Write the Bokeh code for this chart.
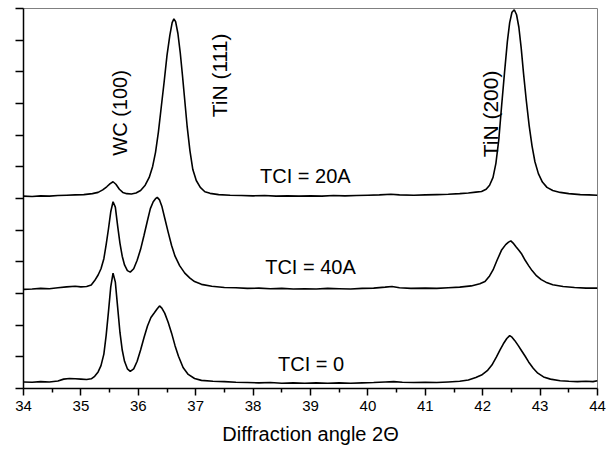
import math
from bokeh.plotting import figure
from bokeh.models import Range1d, FixedTicker, Label, CustomJSTickFormatter
from bokeh.embed import file_html
from bokeh.resources import INLINE

# ---------------- data ----------------
x_tci0 = [34.00, 34.15, 34.30, 34.45, 34.60, 34.70, 34.80, 34.90, 35.00, 35.10,
          35.18, 35.24, 35.30, 35.35, 35.40, 35.44, 35.48, 35.52, 35.56, 35.60,
          35.64, 35.68, 35.72, 35.76, 35.81, 35.86, 35.92, 35.98, 36.04, 36.10,
          36.16, 36.22, 36.28, 36.33, 36.37, 36.41, 36.46, 36.52, 36.58, 36.64,
          36.70, 36.78, 36.87, 36.98, 37.10, 37.30, 37.50, 37.70, 37.90, 38.10,
          38.30, 38.50, 38.70, 38.90, 39.10, 39.30, 39.50, 39.70, 39.90, 40.10,
          40.30, 40.45, 40.60, 40.80, 41.00, 41.20, 41.40, 41.60, 41.75, 41.88,
          41.98, 42.08, 42.16, 42.24, 42.30, 42.36, 42.42, 42.47, 42.51, 42.56,
          42.62, 42.68, 42.74, 42.80, 42.88, 42.96, 43.06, 43.18, 43.35, 43.50,
          43.65, 43.80, 43.92, 44.00]
y_tci0 = [0.06, 0.05, 0.07, 0.06, 0.09, 0.15, 0.17, 0.16, 0.15, 0.14,
          0.16, 0.24, 0.38, 0.58, 0.95, 1.55, 2.30, 3.10, 3.54, 3.25,
          2.45, 1.65, 1.08, 0.72, 0.48, 0.40, 0.48, 0.72, 1.08, 1.48,
          1.85, 2.12, 2.27, 2.40, 2.49, 2.42, 2.26, 1.97, 1.62, 1.22,
          0.88, 0.52, 0.30, 0.17, 0.11, 0.08, 0.07, 0.05, 0.04, 0.03,
          0.04, 0.02, 0.03, 0.02, 0.03, 0.02, 0.03, 0.02, 0.03, 0.04,
          0.06, 0.07, 0.05, 0.04, 0.05, 0.04, 0.06, 0.08, 0.12, 0.20,
          0.28, 0.42, 0.60, 0.86, 1.08, 1.28, 1.45, 1.54, 1.49, 1.38,
          1.22, 1.05, 0.88, 0.70, 0.50, 0.34, 0.22, 0.15, 0.10, 0.08,
          0.07, 0.08, 0.07, 0.10]

x_tci40 = [34.00, 34.15, 34.30, 34.45, 34.60, 34.75, 34.90, 35.00, 35.10, 35.18,
           35.24, 35.30, 35.35, 35.40, 35.44, 35.48, 35.52, 35.56, 35.60, 35.64,
           35.68, 35.72, 35.76, 35.81, 35.86, 35.92, 35.98, 36.04, 36.10, 36.16,
           36.21, 36.26, 36.30, 36.33, 36.37, 36.41, 36.46, 36.52, 36.58, 36.64,
           36.72, 36.81, 36.90, 36.98, 37.10, 37.28, 37.50, 37.70, 37.90, 38.10,
           38.30, 38.50, 38.70, 38.90, 39.10, 39.30, 39.50, 39.70, 39.90, 40.10,
           40.30, 40.42, 40.55, 40.75, 41.00, 41.20, 41.40, 41.60, 41.80, 41.95,
           42.04, 42.12, 42.18, 42.25, 42.33, 42.40, 42.45, 42.49, 42.53, 42.58,
           42.63, 42.68, 42.74, 42.80, 42.86, 42.94, 43.02, 43.10, 43.22, 43.40,
           43.60, 43.80, 44.00]
y_tci40 = [3.02, 3.03, 3.05, 3.04, 3.07, 3.10, 3.12, 3.10, 3.11, 3.16,
           3.30, 3.48, 3.68, 4.00, 4.45, 4.95, 5.50, 5.82, 5.65, 5.05,
           4.50, 4.08, 3.80, 3.62, 3.57, 3.68, 3.95, 4.30, 4.75, 5.22,
           5.60, 5.82, 5.92, 5.96, 5.88, 5.68, 5.30, 4.85, 4.42, 4.08,
           3.78, 3.54, 3.38, 3.27, 3.18, 3.12, 3.08, 3.07, 3.05, 3.06,
           3.04, 3.05, 3.03, 3.04, 3.03, 3.05, 3.04, 3.03, 3.05, 3.06,
           3.09, 3.11, 3.07, 3.05, 3.06, 3.05, 3.07, 3.09, 3.13, 3.20,
           3.27, 3.45, 3.64, 3.95, 4.28, 4.45, 4.53, 4.57, 4.50, 4.38,
           4.27, 4.15, 3.95, 3.78, 3.62, 3.45, 3.33, 3.25, 3.17, 3.11,
           3.08, 3.06, 3.06]

x_tci20 = [34.00, 34.15, 34.30, 34.45, 34.60, 34.75, 34.90, 35.05, 35.20, 35.30,
           35.38, 35.45, 35.51, 35.56, 35.61, 35.67, 35.73, 35.80, 35.88, 35.96,
           36.04, 36.12, 36.19, 36.25, 36.30, 36.35, 36.40, 36.45, 36.50, 36.55,
           36.59, 36.62, 36.65, 36.69, 36.73, 36.77, 36.81, 36.85, 36.90, 36.95,
           37.01, 37.08, 37.16, 37.25, 37.40, 37.60, 37.80, 38.00, 38.20, 38.40,
           38.60, 38.80, 39.00, 39.20, 39.40, 39.60, 39.80, 40.00, 40.20, 40.40,
           40.55, 40.80, 41.00, 41.20, 41.40, 41.60, 41.75, 41.88, 41.98, 42.06,
           42.12, 42.18, 42.23, 42.28, 42.33, 42.38, 42.43, 42.47, 42.51, 42.55,
           42.59, 42.63, 42.67, 42.71, 42.76, 42.81, 42.86, 42.91, 42.97, 43.04,
           43.12, 43.22, 43.35, 43.50, 43.70, 43.85, 44.00]
y_tci20 = [6.00, 5.99, 6.01, 6.00, 6.02, 6.03, 6.04, 6.05, 6.08, 6.12,
           6.20, 6.30, 6.40, 6.46, 6.38, 6.22, 6.12, 6.08, 6.07, 6.10,
           6.18, 6.35, 6.60, 6.95, 7.40, 8.05, 8.85, 9.65, 10.50, 11.15,
           11.55, 11.67, 11.58, 11.20, 10.60, 9.85, 9.05, 8.25, 7.45, 6.85,
           6.50, 6.28, 6.14, 6.09, 6.05, 6.03, 6.02, 6.01, 6.02, 6.00,
           6.01, 6.00, 6.01, 6.00, 6.02, 6.01, 6.02, 6.03, 6.04, 6.06,
           6.04, 6.03, 6.04, 6.05, 6.06, 6.08, 6.10, 6.13, 6.15, 6.22,
           6.35, 6.60, 7.05, 7.80, 8.90, 9.95, 10.95, 11.55, 11.88, 11.96,
           11.80, 11.40, 10.75, 9.95, 9.05, 8.25, 7.60, 7.10, 6.72, 6.45,
           6.28, 6.18, 6.12, 6.08, 6.05, 6.04, 6.03]

x_ticks = [34, 35, 36, 37, 38, 39, 40, 41, 42, 43, 44]
x_minor = [34.5, 35.5, 36.5, 37.5, 38.5, 39.5, 40.5, 41.5, 42.5, 43.5]

peak_labels = ["WC (100)", "TiN (111)", "TiN (200)"]
curve_labels = ["TCI = 20A", "TCI = 40A", "TCI = 0"]
x_title = "Diffraction angle 2\u0398"

# ---------------- figure ----------------
FONT = "Liberation Sans"
Y0, Y1 = -0.15, 12.0

p = figure(width=606, height=450, output_backend="svg", toolbar_location=None,
           x_range=Range1d(34, 44), y_range=Range1d(Y0, Y1),
           min_border_left=23, min_border_right=9, min_border_top=8,
           min_border_bottom=62, background_fill_color="white",
           border_fill_color="white")
p.grid.visible = False
p.outline_line_color = "#808080"
p.outline_line_width = 1

for xs, ys in [(x_tci0, y_tci0), (x_tci40, y_tci40), (x_tci20, y_tci20)]:
    p.line(xs, ys, line_color="black", line_width=1.6)

# x axis
xa = p.xaxis[0]
xa.ticker = FixedTicker(ticks=x_ticks, minor_ticks=x_minor)
xa.axis_line_width = 1.5
xa.axis_line_color = "black"
xa.major_tick_in = 0
xa.major_tick_out = 7
xa.minor_tick_in = 0
xa.minor_tick_out = 4
xa.major_tick_line_width = 1.5
xa.minor_tick_line_width = 1.5
xa.major_label_text_font = FONT
xa.major_label_text_font_size = "15px"
xa.major_label_text_color = "black"
xa.major_label_text_line_height = 1.0
xa.major_label_standoff = 5
xa.axis_label = x_title
xa.axis_label_text_font = FONT
xa.axis_label_text_font_size = "20px"
xa.axis_label_text_font_style = "normal"
xa.axis_label_text_color = "black"
xa.axis_label_text_line_height = 1.0
xa.axis_label_standoff = 9

# y axis: ticks only
ya = p.yaxis[0]
ya.ticker = FixedTicker(ticks=[Y0 + i * (Y1 - Y0) / 12 for i in range(13)], minor_ticks=[])
ya.formatter = CustomJSTickFormatter(code="return '';")
ya.axis_line_width = 1.5
ya.axis_line_color = "black"
ya.major_tick_in = 0
ya.major_tick_out = 8
ya.major_tick_line_width = 1.5
ya.major_label_standoff = 0

# rotated peak labels (x = baseline position, y = centre)
for txt, lx, ly, fs in zip(peak_labels, [35.68, 37.41, 42.14], [8.66, 9.86, 8.63],
                           ["20px", "21px", "21px"]):
    p.add_layout(Label(x=lx, y=ly, text=txt, angle=math.pi / 2, angle_units="rad",
                       text_align="center", text_baseline="alphabetic",
                       text_font=FONT, text_font_size=fs, text_color="black"))

for txt, lx, ly in zip(curve_labels, [38.91, 39.00, 39.01], [6.63, 3.73, 0.62]):
    p.add_layout(Label(x=lx, y=ly, text=txt, text_align="center",
                       text_baseline="alphabetic", text_font=FONT,
                       text_font_size="20px", text_color="black"))

open("out.html", "w").write(file_html(p, INLINE))
